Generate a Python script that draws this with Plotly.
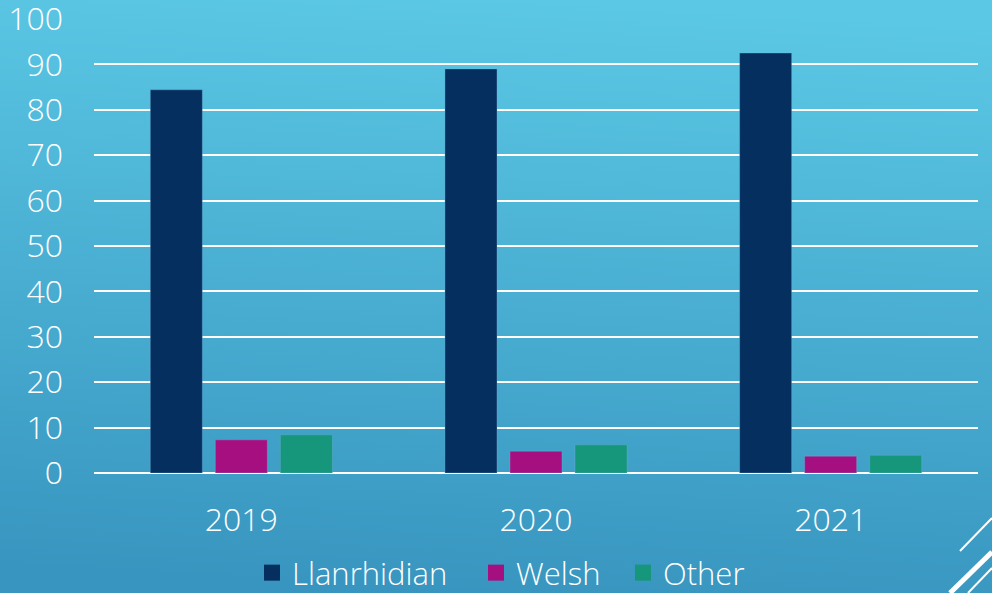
import plotly.graph_objects as go

years = ["2019", "2020", "2021"]
llanrhidian = [84.4, 89.0, 92.5]
welsh = [7.3, 4.8, 3.7]
other = [8.4, 6.2, 3.9]
y_ticks = [0, 10, 20, 30, 40, 50, 60, 70, 80, 90, 100]

FONT = "Open Sans"
W, H = 992, 593
L, R, T, B = 94, 14, 19, 120
pw, ph = W - L - R, H - T - B

svg = (
    "<svg xmlns='http://www.w3.org/2000/svg' width='992' height='593'>"
    "<defs><linearGradient id='g' x1='0.55' y1='0' x2='0.45' y2='1'>"
    "<stop offset='0' stop-color='#5BC8E5'/>"
    "<stop offset='1' stop-color='#3895BF'/>"
    "</linearGradient></defs>"
    "<rect width='992' height='593' fill='url(#g)'/></svg>"
)
enc = svg.replace("#", "%23").replace("<", "%3C").replace(">", "%3E").replace("'", "%27").replace(" ", "%20")
bg_src = "data:image/svg+xml;charset=utf-8," + enc

fig = go.Figure()
series = [("Llanrhidian", llanrhidian, "#052F5F"),
          ("Welsh", welsh, "#A50F80"),
          ("Other", other, "#16967A")]
legend_ids = ["legend", "legend2", "legend3"]
for name, vals, col in series:
    fig.add_trace(go.Bar(
        x=years, y=vals, name=name, showlegend=False,
        marker=dict(color=col, line=dict(color="rgba(120,180,220,0.35)", width=1)),
    ))
for (name, vals, col), lid in zip(series, legend_ids):
    fig.add_trace(go.Scatter(
        x=[None], y=[None], name=name, mode="markers", legend=lid,
        marker=dict(symbol="square", size=18, color=col),
    ))

tf = dict(size=32, color="white", family=FONT, weight=300)
lf = dict(size=31, color="white", family=FONT, weight=300)

def px(x): return (x - L) / pw
def py(y): return (473 - y) / ph

leg_left = [252, 476, 623]
leg_common = dict(orientation="h", xanchor="left", yanchor="middle", y=py(573),
                  font=lf, itemwidth=30, bgcolor="rgba(0,0,0,0)", itemsizing="trace")
legends = {lid: dict(leg_common, x=px(xl)) for lid, xl in zip(legend_ids, leg_left)}

fig.update_layout(
    width=W, height=H,
    margin=dict(l=L, r=R, t=T, b=B, autoexpand=False),
    paper_bgcolor="#47A9D2",
    plot_bgcolor="rgba(0,0,0,0)",
    barmode="group",
    bargap=0.338,
    bargroupgap=0.2,
    font=dict(family=FONT, color="white", size=32, weight=300),
    showlegend=True,
    yaxis=dict(range=[0, 100], tickvals=y_ticks, showgrid=True, gridcolor="white",
               gridwidth=2, zeroline=True, zerolinecolor="white", zerolinewidth=2,
               showline=False, ticks="", ticklabelstandoff=30, automargin=False,
               ticklabeloverflow="allow", tickfont=tf, fixedrange=True),
    xaxis=dict(showline=False, ticks="", ticklabelstandoff=25, automargin=False,
               tickfont=tf, fixedrange=True),
    images=[dict(source=bg_src, xref="paper", yref="paper", x=-L / pw, y=1 + T / ph,
                 sizex=W / pw, sizey=H / ph, xanchor="left", yanchor="top",
                 sizing="stretch", layer="below")],
    **legends,
)

for (x0, y0, x1, y1, w) in [(960, 551, 992, 518, 2), (950, 593, 992, 552, 5), (968, 593, 992, 568, 2)]:
    fig.add_shape(type="line", xref="paper", yref="paper",
                  x0=px(x0), y0=py(y0), x1=px(x1), y1=py(y1),
                  line=dict(color="white", width=w))

fig.write_html("out.html", config={"displayModeBar": False},
               post_script="document.body.style.margin='0';document.body.style.overflow='hidden';")
